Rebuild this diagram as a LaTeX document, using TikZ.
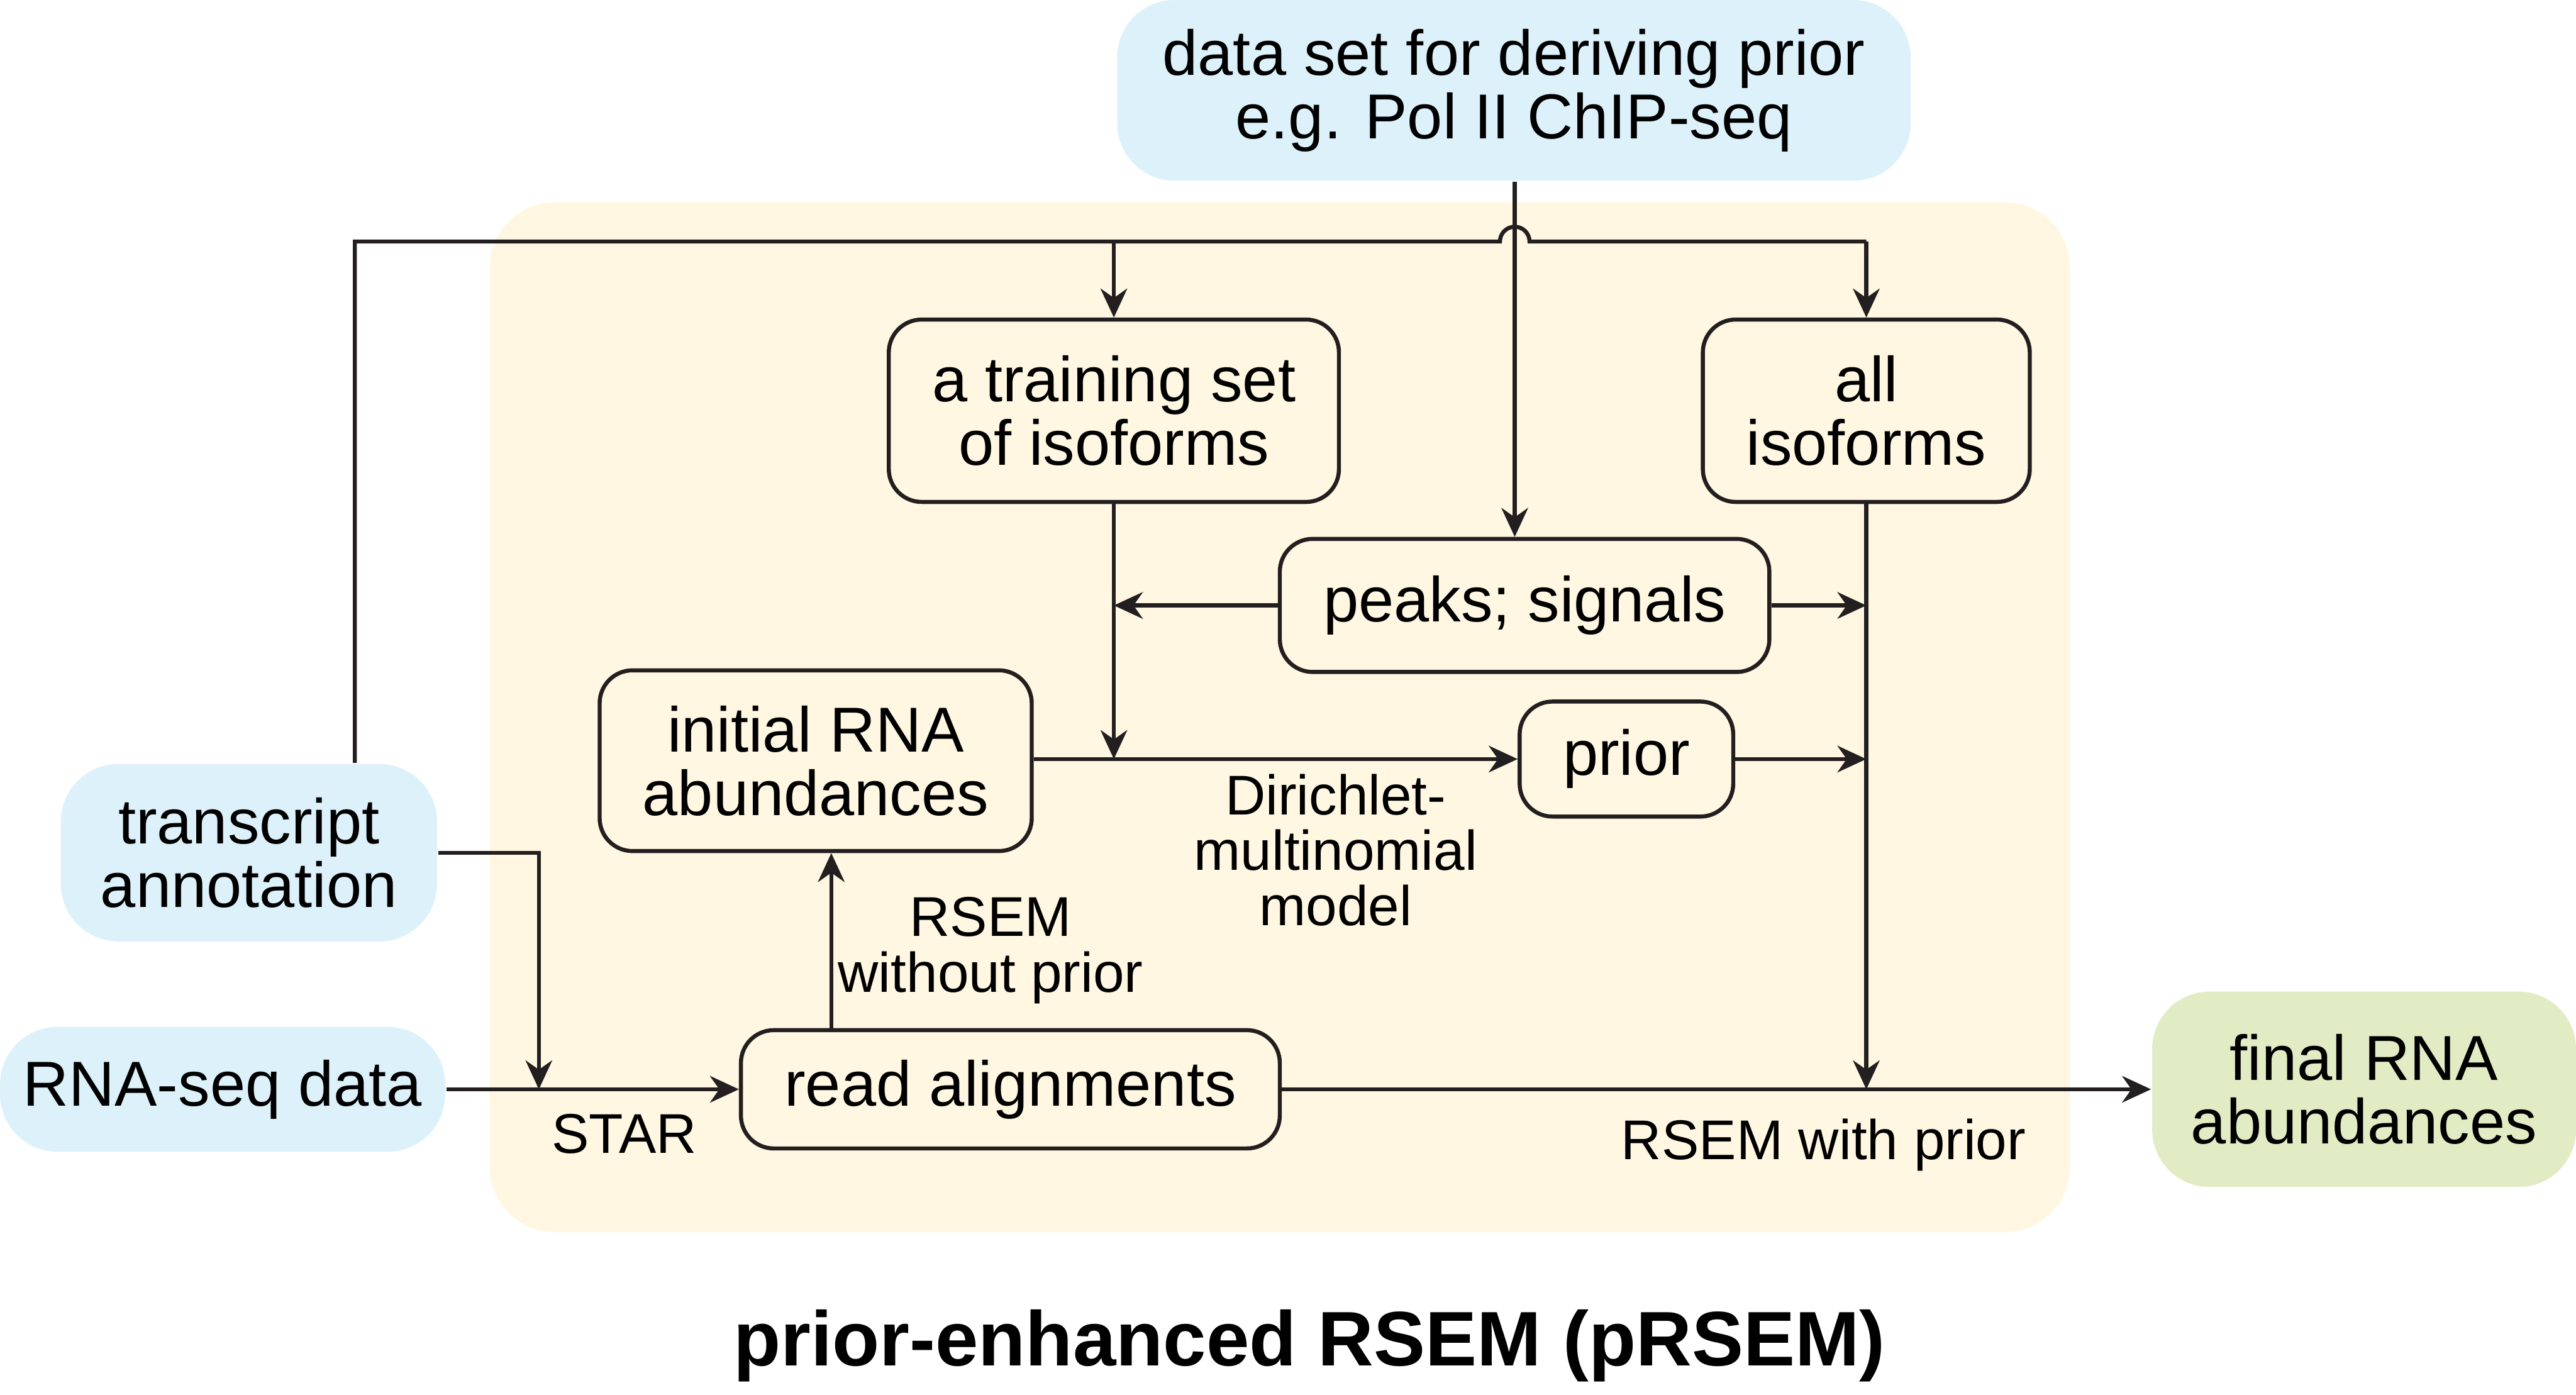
\documentclass[tikz,border=0pt]{standalone}
\usepackage{fontspec}
\setmainfont{Liberation Sans}
\usetikzlibrary{arrows.meta}
\definecolor{linecol}{RGB}{35,31,32}
\definecolor{inblue}{RGB}{221,241,251}
\definecolor{bgyellow}{RGB}{255,247,225}
\definecolor{outgreen}{RGB}{225,236,196}

\begin{document}
\begin{tikzpicture}
	[%
	>={Stealth[length=5pt, width=4.6pt, inset=1.6pt]},%
	block/.style ={rectangle,	rounded corners=2mm,	draw=linecol,	line width=0.7pt,	inner sep=0pt,	align=center,	font=\fontsize{11}{11}\selectfont},%
	source/.style={rectangle,	rounded corners=3.5mm,	fill=inblue,	inner sep=0pt,	align=center,	font=\fontsize{11}{11}\selectfont},%
	sink/.style  ={rectangle,	rounded corners=3.5mm,	fill=outgreen,	inner sep=0pt,	align=center,	font=\fontsize{11}{11}\selectfont},%
	lbl/.style   ={inner sep=0pt,	align=center,	font=\fontsize{9.7}{9.6}\selectfont},%
	link/.style  ={draw=linecol,	line width=0.7pt},%
	]

	\newcommand{\ltop}{-1.47}
	\newcommand{\lann}{2.16}
	\newcommand{\lstar}{3.28}
	\newcommand{\lrsem}{5.06}
	\newcommand{\lhop}{9.22}

	\useasboundingbox (0,0) rectangle (15.68,-8.49);

	% background
	\fill [bgyellow, rounded corners=4mm] (2.98,-1.23) rectangle (12.60,-7.50);

	% nodes
	\node (data)	at (9.215,-0.55)	[source, minimum width=4.83cm, minimum height=1.10cm] {data set for deriving prior\\e.g. Pol II ChIP-seq};
	\node (annot)	at (1.515,-5.19)	[source, minimum width=2.29cm, minimum height=1.08cm] {transcript\\annotation};
	\node (rnaseq)	at (1.355,-6.63)	[source, minimum width=2.71cm, minimum height=0.76cm] {RNA-seq data};

	\node (train)	at (6.78,-2.50)		[block, minimum width=2.74cm, minimum height=1.11cm] {a training set\\of isoforms};
	\node (allis)	at (11.36,-2.50)	[block, minimum width=1.99cm, minimum height=1.11cm] {all\\isoforms};
	\node (peaks)	at (9.28,-3.685)	[block, minimum width=2.98cm, minimum height=0.81cm] {peaks; signals};
	\node (initial)	at (4.965,-4.63)	[block, minimum width=2.63cm, minimum height=1.10cm] {initial RNA\\abundances};
	\node (prior)	at (9.90,-4.62)		[block, minimum width=1.30cm, minimum height=0.70cm] {prior};
	\node (reads)	at (6.15,-6.63)		[block, minimum width=3.28cm, minimum height=0.72cm] {read alignments};

	\node (final)	at (14.39,-6.63)	[sink, minimum width=2.58cm, minimum height=1.19cm] {final RNA\\abundances};

	% labels
	\node (star)	at (3.80,-6.90)		[lbl] {STAR};
	\node (noprior)	at (6.03,-5.785)	[lbl] {RSEM\\without prior};
	\node (dirich)	at (8.13,-5.175)	[lbl] {Dirichlet-\\multinomial\\model};
	\node (wprior)	at (11.10,-6.97)	[lbl] {RSEM with prior};
	\node (title)	at (7.97,-8.19)		[font=\fontsize{13.4}{14}\selectfont\bfseries, inner sep=0pt] {prior-enhanced RSEM (pRSEM)};

	% interconnections
	\draw [link] (annot.north -| \lann,0) -- (\lann,\ltop) -- (\lhop-0.09,\ltop) arc (180:0:0.09) -- (allis.north |- 0,\ltop);
	\foreach \n in {train, allis}%
		\draw [link, ->] (\n.north |- 0,\ltop) -- (\n.north);
	\draw [link, ->] (data.south -| \lhop,0) -- (peaks.north -| \lhop,0);

	\draw [link, ->] (train.south) -- (train.south |- prior.west);
	\draw [link, ->] (peaks.west) -- (train.south |- peaks.west);
	\draw [link, ->] (peaks.east) -- (allis.south |- peaks.east);
	\draw [link, ->] (initial.east |- prior.west) -- (prior.west);
	\draw [link, ->] (prior.east) -- (allis.south |- prior.east);
	\draw [link, ->] (allis.south) -- (allis.south |- reads.east);

	\draw [link, ->] (rnaseq.east) -- (reads.west);
	\draw [link, ->] (annot.east) -| (\lstar,0 |- reads.west);
	\draw [link, ->] (reads.north -| \lrsem,0) -- (initial.south -| \lrsem,0);
	\draw [link, ->] (reads.east) -- (final.west);

\end{tikzpicture}
\end{document}
